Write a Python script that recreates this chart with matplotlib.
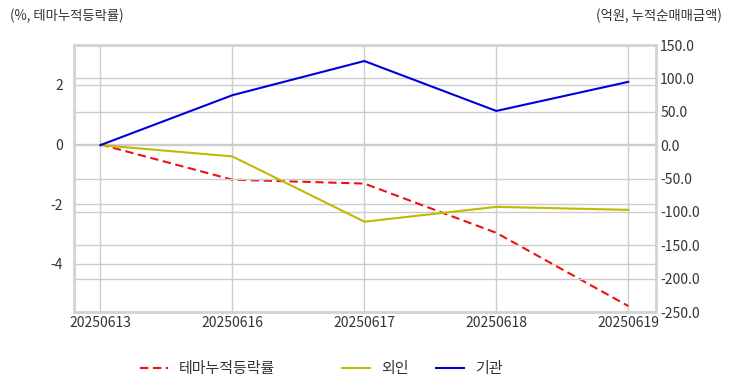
import matplotlib
matplotlib.use("Agg")
import matplotlib.pyplot as plt
from matplotlib.lines import Line2D

plt.rcParams['font.family'] = ['Noto Sans CJK KR', 'DejaVu Sans']

# data
dates = ['20250613', '20250616', '20250617', '20250618', '20250619']
theme_rate = [0.0, -1.18, -1.31, -2.96, -5.41]     # %, left axis
foreign = [0.0, -16.9, -114.7, -92.5, -97.0]       # 억원, right axis
institution = [0.0, 74.8, 126.0, 51.2, 94.8]       # 억원, right axis

left_ticks = [2, 0, -2, -4]
right_ticks = [150, 100, 50, 0, -50, -100, -150, -200, -250]

grid_c = '#cccccc'
text_c = '#333333'

fig = plt.figure(figsize=(7.32, 3.92), dpi=100)
ax = fig.add_axes([74 / 732, 1 - 312 / 392, 582 / 732, 267 / 392])
ax2 = ax.twinx()

x = list(range(len(dates)))

ax.plot(x, theme_rate, color='#ee1111', ls=(0, (4, 2.2)), lw=1.5, zorder=3)
ax2.plot(x, foreign, color='#bfbb00', lw=1.5, zorder=3)
ax2.plot(x, institution, color='#0000dd', lw=1.5, zorder=3)

ax.set_xlim(-0.2, 4.21)
ax.set_ylim(-5.61, 3.33)
ax2.set_ylim(-250, 150)

ax.set_xticks(x)
ax.set_xticklabels(dates)
ax.set_yticks(left_ticks)
ax.set_yticklabels([str(v) for v in left_ticks])
ax2.set_yticks(right_ticks)
ax2.set_yticklabels(['%.1f' % v for v in right_ticks])

ax.grid(True, color=grid_c, lw=1)
ax2.grid(True, axis='y', color=grid_c, lw=1)
ax.set_axisbelow(True)
ax2.set_axisbelow(True)
ax2.patch.set_alpha(0.0)

for a in (ax, ax2):
    for s in a.spines.values():
        s.set_color('#d4d4d4')
        s.set_linewidth(1.8)
    a.tick_params(length=0, labelsize=10, labelcolor=text_c)
ax.tick_params(axis='y', pad=8)
ax.tick_params(axis='x', pad=3)
ax2.tick_params(axis='y', pad=3)

fig.text(10 / 732, 1 - 16 / 392, '(%, 테마누적등락률)', fontsize=9.6, color=text_c,
         ha='left', va='center')
fig.text(722 / 732, 1 - 16 / 392, '(억원, 누적순매매금액)', fontsize=9.6, color=text_c,
         ha='right', va='center')

# legend entries at the bottom
entries = [
    (Line2D([], [], color='#ee1111', ls=(0, (4, 2.2)), lw=1.5), '테마누적등락률', 135),
    (Line2D([], [], color='#bfbb00', lw=1.5), '외인', 337),
    (Line2D([], [], color='#0000dd', lw=1.5), '기관', 431),
]
for h, lab, px in entries:
    leg = fig.legend([h], [lab], loc='center left', bbox_to_anchor=(px / 732, 1 - 369 / 392),
                     frameon=False, fontsize=10.8, handlelength=1.9, handletextpad=0.75,
                     borderaxespad=0, borderpad=0.3)
    for t in leg.get_texts():
        t.set_color(text_c)

fig.savefig('out.png', dpi=100)
